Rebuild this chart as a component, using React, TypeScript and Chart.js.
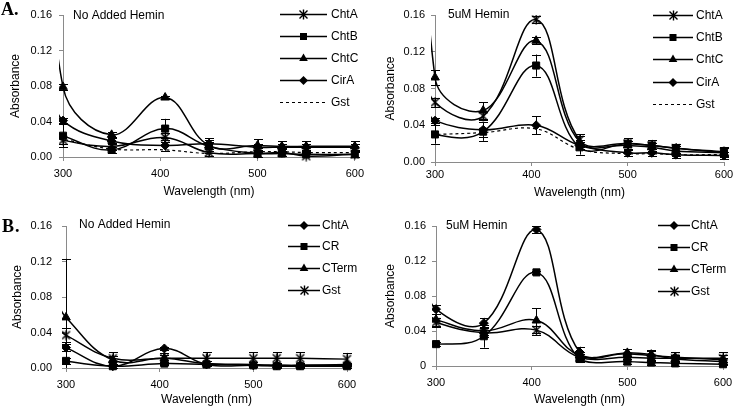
import React, { useEffect, useRef } from "react";
import { Chart, registerables } from "chart.js";

Chart.register(...registerables);

const FONT = '"Liberation Sans", Arial, sans-serif';
const AXIS_COLOR = "#8a8a8a";

// ---------- shared axes ----------
const wavelengths = [300, 350, 405, 450, 500, 525, 550, 600];
const leadWavelength = 290;
const xTickValues = [300, 400, 500, 600];
const xTickLabels = ["300", "400", "500", "600"];
const yTickLabels = ["0.00", "0.04", "0.08", "0.12", "0.16"];
const yTickLabelsPlainZero = ["0", "0.04", "0.08", "0.12", "0.16"];

// ---------- Panel A, no added hemin ----------
const a1ChtA = [0.019, 0.012, 0.022, 0.005, 0.004, 0.005, 0.001, 0.003];
const a1ChtAErr = [0.004, 0.004, 0.005, 0.004, 0.004, 0.004, 0.003, 0.003];
const a1ChtB = [0.024, 0.008, 0.032, 0.012, 0.004, 0.004, 0.003, 0.003];
const a1ChtBErr = [0.013, 0.003, 0.011, 0.005, 0.006, 0.006, 0.005, 0.005];
const a1ChtC = [0.079, 0.025, 0.067, 0.013, 0.013, 0.012, 0.012, 0.012];
const a1ChtCErr = [0.003, 0.003, 0.002, 0.008, 0.007, 0.006, 0.006, 0.006];
const a1CirA = [0.041, 0.018, 0.013, 0.015, 0.011, 0.011, 0.011, 0.011];
const a1CirAErr = [0.003, 0.003, 0.006, 0.004, 0.004, 0.004, 0.004, 0.004];
const a1Gst = [0.02, 0.009, 0.008, 0.004, 0.006, 0.006, 0.005, 0.005];
const a1Lead = [0.025, 0.03, 0.36, 0.075, 0.022]; // ChtA, ChtB, ChtC, CirA, Gst

// ---------- Panel A, 5uM hemin ----------
const a2ChtA = [0.065, 0.05, 0.155, 0.024, 0.02, 0.018, 0.015, 0.011];
const a2ChtAErr = [0.005, 0.004, 0.004, 0.006, 0.006, 0.006, 0.005, 0.005];
const a2ChtB = [0.03, 0.033, 0.105, 0.016, 0.02, 0.018, 0.015, 0.01];
const a2ChtBErr = [0.01, 0.01, 0.012, 0.008, 0.006, 0.006, 0.005, 0.005];
const a2ChtC = [0.092, 0.056, 0.132, 0.022, 0.018, 0.016, 0.012, 0.01];
const a2ChtCErr = [0.008, 0.009, 0.004, 0.006, 0.005, 0.005, 0.005, 0.005];
const a2CirA = [0.045, 0.035, 0.04, 0.018, 0.01, 0.01, 0.008, 0.007];
const a2CirAErr = [0.003, 0.008, 0.01, 0.004, 0.004, 0.004, 0.004, 0.004];
const a2Gst = [0.03, 0.032, 0.036, 0.014, 0.009, 0.009, 0.008, 0.008];
const a2Lead = [0.11, 0.045, 0.55, 0.06, 0.03];

// ---------- Panel B, no added hemin ----------
const b1ChtA = [0.023, 0.002, 0.022, 0.004, 0.003, 0.003, 0.003, 0.004];
const b1ChtAErr = [0.004, 0.002, 0.002, 0.002, 0.002, 0.002, 0.002, 0.002];
const b1CR = [0.008, 0.002, 0.005, 0.004, 0.003, 0.002, 0.002, 0.002];
const b1CRErr = [0.003, 0.002, 0.002, 0.002, 0.002, 0.002, 0.002, 0.002];
const b1CTerm = [0.057, 0.009, 0.011, 0.005, 0.004, 0.003, 0.003, 0.003];
const b1CTermErr = [0.066, 0.004, 0.004, 0.003, 0.003, 0.003, 0.003, 0.003];
const b1Gst = [0.037, 0.011, 0.011, 0.011, 0.011, 0.011, 0.011, 0.01];
const b1GstErr = [0.008, 0.007, 0.006, 0.007, 0.007, 0.007, 0.007, 0.007];
const b1Lead = [0.03, 0.012, 0.075, 0.045];

// ---------- Panel B, 5uM hemin ----------
const b2ChtA = [0.065, 0.049, 0.156, 0.016, 0.014, 0.012, 0.01, 0.007];
const b2ChtAErr = [0.005, 0.006, 0.004, 0.006, 0.006, 0.006, 0.006, 0.006];
const b2CR = [0.025, 0.034, 0.107, 0.008, 0.005, 0.004, 0.003, 0.002];
const b2CRErr = [0.002, 0.013, 0.002, 0.003, 0.003, 0.003, 0.003, 0.003];
const b2CTerm = [0.053, 0.04, 0.052, 0.012, 0.015, 0.013, 0.008, 0.005];
const b2CTermErr = [0.007, 0.005, 0.014, 0.004, 0.004, 0.004, 0.004, 0.004];
const b2Gst = [0.05, 0.038, 0.041, 0.01, 0.01, 0.009, 0.009, 0.009];
const b2GstErr = [0.005, 0.005, 0.005, 0.004, 0.004, 0.004, 0.004, 0.007];
const b2Lead = [0.1, 0.03, 0.06, 0.06];

type Marker = "star" | "rect" | "triangle" | "diamond" | "none";
type Series = {
  label: string;
  values: number[];
  errors?: number[];
  lead: number;
  marker: Marker;
  dashed?: boolean;
};
type PanelSpec = {
  key: string;
  left: number;
  top: number;
  width: number;
  height: number;
  area: { l: number; t: number; r: number; b: number };
  yTickPad: number;
  xTickPad: number;
  yTitlePad: number;
  xTitlePad: number;
  yLabels: string[];
  title: string;
  titleX: number;
  titleY: number;
  legend: { x1: number; x2: number; tx: number; rows: number[] };
  letter?: { text: string; x: number; y: number };
  series: Series[];
};

let asteriskCanvas: HTMLCanvasElement | null = null;
function getAsterisk(): HTMLCanvasElement {
  if (asteriskCanvas) return asteriskCanvas;
  const c = document.createElement("canvas");
  c.width = 11;
  c.height = 11;
  const g = c.getContext("2d")!;
  g.strokeStyle = "#000";
  g.lineWidth = 1.4;
  g.beginPath();
  g.moveTo(1.5, 1.5);
  g.lineTo(9.5, 9.5);
  g.moveTo(9.5, 1.5);
  g.lineTo(1.5, 9.5);
  g.moveTo(5.5, 0.5);
  g.lineTo(5.5, 10.5);
  g.stroke();
  asteriskCanvas = c;
  return c;
}

function markerStyle(m: Marker): any {
  if (m === "star") return getAsterisk();
  if (m === "rect") return "rect";
  if (m === "triangle") return "triangle";
  if (m === "diamond") return "rectRot";
  return "circle";
}
function markerRadius(m: Marker): number {
  if (m === "rect") return 5;
  if (m === "triangle") return 5;
  if (m === "diamond") return 4.5;
  if (m === "star") return 5;
  return 0;
}

function drawMarker(ctx: CanvasRenderingContext2D, m: Marker, x: number, y: number) {
  ctx.save();
  ctx.fillStyle = "#000";
  ctx.beginPath();
  if (m === "rect") {
    ctx.fillRect(x - 3.5, y - 3.5, 7, 7);
  } else if (m === "triangle") {
    ctx.moveTo(x, y - 5);
    ctx.lineTo(x + 4.33, y + 2.5);
    ctx.lineTo(x - 4.33, y + 2.5);
    ctx.closePath();
    ctx.fill();
  } else if (m === "diamond") {
    ctx.moveTo(x, y - 4.5);
    ctx.lineTo(x + 4.5, y);
    ctx.lineTo(x, y + 4.5);
    ctx.lineTo(x - 4.5, y);
    ctx.closePath();
    ctx.fill();
  } else if (m === "star") {
    const img = getAsterisk();
    ctx.drawImage(img, Math.round(x - img.width / 2), Math.round(y - img.height / 2));
  }
  ctx.restore();
}

const errorBarPlugin = {
  id: "errorBars",
  afterDatasetsDraw(chart: any) {
    const { ctx, chartArea } = chart;
    const xs = chart.scales.x;
    const ys = chart.scales.y;
    ctx.save();
    ctx.strokeStyle = "#000";
    ctx.lineWidth = 1;
    chart.data.datasets.forEach((ds: any) => {
      const errs: number[] | undefined = ds.errors;
      const vals: number[] = ds.values;
      if (!errs) return;
      wavelengths.forEach((w, i) => {
        const e = errs[i];
        if (!e) return;
        const px = Math.round(xs.getPixelForValue(w)) + 0.5;
        const rawTop = ys.getPixelForValue(vals[i] + e);
        const rawBot = ys.getPixelForValue(vals[i] - e);
        const top = Math.max(chartArea.top, rawTop);
        const bot = Math.min(chartArea.bottom, rawBot);
        ctx.beginPath();
        ctx.moveTo(px, top);
        ctx.lineTo(px, bot);
        if (rawTop >= chartArea.top) {
          ctx.moveTo(px - 4.5, Math.round(top) + 0.5);
          ctx.lineTo(px + 4.5, Math.round(top) + 0.5);
        }
        if (rawBot <= chartArea.bottom) {
          ctx.moveTo(px - 4.5, Math.round(bot) + 0.5);
          ctx.lineTo(px + 4.5, Math.round(bot) + 0.5);
        }
        ctx.stroke();
      });
    });
    ctx.restore();
  },
};

function buildConfig(p: PanelSpec): any {
  const datasets = p.series.map((s) => ({
    label: s.label,
    values: s.values,
    errors: s.errors,
    data: [{ x: leadWavelength, y: s.lead }].concat(
      wavelengths.map((w, i) => ({ x: w, y: s.values[i] }))
    ),
    borderColor: "#000",
    backgroundColor: "#000",
    pointBackgroundColor: "#000",
    pointBorderColor: "#000",
    pointBorderWidth: 1,
    borderWidth: s.dashed ? 1.2 : 1.5,
    borderDash: s.dashed ? [3, 3] : [],
    tension: 0.4,
    pointStyle: (ctx: any) => (ctx.dataIndex === 0 ? "circle" : markerStyle(s.marker)),
    pointRadius: (ctx: any) => (ctx.dataIndex === 0 ? 0 : markerRadius(s.marker)),
    clip: { left: 4, top: 0, right: 8, bottom: 8 },
  }));

  const decor = {
    id: "decor" + p.key,
    afterDraw(chart: any) {
      const ctx: CanvasRenderingContext2D = chart.ctx;
      ctx.save();
      ctx.fillStyle = "#000";
      ctx.textBaseline = "middle";
      ctx.textAlign = "left";
      ctx.font = `12px ${FONT}`;
      ctx.fillText(p.title, p.titleX, p.titleY);
      const L = p.legend;
      p.series.forEach((s, i) => {
        const y = L.rows[i];
        ctx.save();
        ctx.strokeStyle = "#000";
        ctx.lineWidth = s.dashed ? 1.2 : 1.5;
        ctx.setLineDash(s.dashed ? [3, 3] : []);
        ctx.beginPath();
        ctx.moveTo(L.x1, y + 0.5);
        ctx.lineTo(L.x2, y + 0.5);
        ctx.stroke();
        ctx.restore();
        drawMarker(ctx, s.marker, (L.x1 + L.x2) / 2, y + 0.5);
        ctx.fillStyle = "#000";
        ctx.font = `12px ${FONT}`;
        ctx.fillText(s.label, L.tx, y + 0.5);
      });
      if (p.letter) {
        ctx.font = `bold 18px "Liberation Serif", "Times New Roman", serif`;
        ctx.textBaseline = "alphabetic";
        ctx.fillText(p.letter.text[0], p.letter.x, p.letter.y);
        ctx.fillText(p.letter.text.slice(1), p.letter.x + 13, p.letter.y);
      }
      ctx.restore();
    },
  };

  const gridOpts = { drawOnChartArea: false, drawTicks: true, tickLength: 4, color: AXIS_COLOR };
  const borderOpts = { display: true, color: AXIS_COLOR, width: 1 };

  return {
    type: "line",
    data: { datasets },
    plugins: [errorBarPlugin, decor],
    options: {
      responsive: false,
      animation: false,
      events: [],
      layout: { padding: { left: 0, top: p.area.t, right: p.width - p.area.r, bottom: 0 } },
      plugins: {
        legend: { display: false },
        tooltip: { enabled: false },
        title: { display: false },
      },
      scales: {
        x: {
          type: "linear",
          min: 300,
          max: 600,
          ticks: {
            stepSize: 100,
            maxRotation: 0,
            autoSkip: false,
            color: "#000",
            font: { size: 11, family: FONT },
            padding: p.xTickPad,
            callback: (v: number) => {
              const k = xTickValues.indexOf(v);
              return k >= 0 ? xTickLabels[k] : "";
            },
          },
          grid: gridOpts,
          border: borderOpts,
          title: {
            display: true,
            text: "Wavelength (nm)",
            color: "#000",
            font: { size: 12, family: FONT },
            padding: { top: 0, bottom: p.xTitlePad },
          },
          afterFit: (s: any) => {
            s.height = p.height - p.area.b;
          },
        },
        y: {
          type: "linear",
          min: 0,
          max: 0.16,
          ticks: {
            stepSize: 0.04,
            color: "#000",
            font: { size: 11, family: FONT },
            padding: p.yTickPad,
            callback: (_v: number, i: number) => p.yLabels[i],
          },
          grid: gridOpts,
          border: borderOpts,
          title: {
            display: true,
            text: "Absorbance",
            color: "#000",
            font: { size: 12, family: FONT },
            padding: { top: p.yTitlePad, bottom: 0 },
          },
          afterFit: (s: any) => {
            s.width = p.area.l;
          },
        },
      },
    },
  };
}

const panels: PanelSpec[] = [
  {
    key: "A1",
    left: 0,
    top: 0,
    width: 370,
    height: 200,
    area: { l: 63, t: 15, r: 355, b: 157 },
    yTickPad: 7,
    xTickPad: 6,
    yTitlePad: 8,
    xTitlePad: 1,
    yLabels: yTickLabels,
    title: "No Added Hemin",
    titleX: 73,
    titleY: 16,
    legend: { x1: 280, x2: 327, tx: 331, rows: [14, 36, 58, 80, 102] },
    letter: { text: "A.", x: 1, y: 15 },
    series: [
      { label: "ChtA", values: a1ChtA, errors: a1ChtAErr, lead: a1Lead[0], marker: "star" },
      { label: "ChtB", values: a1ChtB, errors: a1ChtBErr, lead: a1Lead[1], marker: "rect" },
      { label: "ChtC", values: a1ChtC, errors: a1ChtCErr, lead: a1Lead[2], marker: "triangle" },
      { label: "CirA", values: a1CirA, errors: a1CirAErr, lead: a1Lead[3], marker: "diamond" },
      { label: "Gst", values: a1Gst, lead: a1Lead[4], marker: "none", dashed: true },
    ],
  },
  {
    key: "A2",
    left: 368,
    top: 0,
    width: 375,
    height: 200,
    area: { l: 67, t: 15, r: 356, b: 162 },
    yTickPad: 6,
    xTickPad: 2,
    yTitlePad: 15,
    xTitlePad: 0,
    yLabels: yTickLabels,
    title: "5uM Hemin",
    titleX: 80,
    titleY: 15,
    legend: { x1: 285, x2: 325, tx: 328, rows: [15, 37, 59, 82, 104] },
    series: [
      { label: "ChtA", values: a2ChtA, errors: a2ChtAErr, lead: a2Lead[0], marker: "star" },
      { label: "ChtB", values: a2ChtB, errors: a2ChtBErr, lead: a2Lead[1], marker: "rect" },
      { label: "ChtC", values: a2ChtC, errors: a2ChtCErr, lead: a2Lead[2], marker: "triangle" },
      { label: "CirA", values: a2CirA, errors: a2CirAErr, lead: a2Lead[3], marker: "diamond" },
      { label: "Gst", values: a2Gst, lead: a2Lead[4], marker: "none", dashed: true },
    ],
  },
  {
    key: "B1",
    left: 0,
    top: 200,
    width: 370,
    height: 207,
    area: { l: 66, t: 26, r: 347, b: 168 },
    yTickPad: 10,
    xTickPad: 6,
    yTitlePad: 10,
    xTitlePad: 0,
    yLabels: yTickLabels,
    title: "No Added Hemin",
    titleX: 79,
    titleY: 25,
    legend: { x1: 288, x2: 320, tx: 322, rows: [25, 46, 68, 90] },
    letter: { text: "B.", x: 2, y: 32 },
    series: [
      { label: "ChtA", values: b1ChtA, errors: b1ChtAErr, lead: b1Lead[0], marker: "diamond" },
      { label: "CR", values: b1CR, errors: b1CRErr, lead: b1Lead[1], marker: "rect" },
      { label: "CTerm", values: b1CTerm, errors: b1CTermErr, lead: b1Lead[2], marker: "triangle" },
      { label: "Gst", values: b1Gst, errors: b1GstErr, lead: b1Lead[3], marker: "star" },
    ],
  },
  {
    key: "B2",
    left: 368,
    top: 200,
    width: 375,
    height: 207,
    area: { l: 68, t: 26, r: 355, b: 166 },
    yTickPad: 6,
    xTickPad: 6,
    yTitlePad: 15,
    xTitlePad: 0,
    yLabels: yTickLabelsPlainZero,
    title: "5uM Hemin",
    titleX: 78,
    titleY: 26,
    legend: { x1: 290, x2: 322, tx: 323, rows: [25, 47, 69, 91] },
    series: [
      { label: "ChtA", values: b2ChtA, errors: b2ChtAErr, lead: b2Lead[0], marker: "diamond" },
      { label: "CR", values: b2CR, errors: b2CRErr, lead: b2Lead[1], marker: "rect" },
      { label: "CTerm", values: b2CTerm, errors: b2CTermErr, lead: b2Lead[2], marker: "triangle" },
      { label: "Gst", values: b2Gst, errors: b2GstErr, lead: b2Lead[3], marker: "star" },
    ],
  },
];

function Panel({ spec }: { spec: PanelSpec }) {
  const ref = useRef<HTMLCanvasElement>(null);
  useEffect(() => {
    const chart = new Chart(ref.current as HTMLCanvasElement, buildConfig(spec));
    return () => chart.destroy();
  }, [spec]);
  return (
    <canvas
      ref={ref}
      width={spec.width}
      height={spec.height}
      style={{
        position: "absolute",
        left: spec.left,
        top: spec.top,
        width: spec.width,
        height: spec.height,
      }}
    />
  );
}

export default function App() {
  Chart.defaults.font.family = FONT;
  Chart.defaults.color = "#000";
  return (
    <div
      style={{
        position: "absolute",
        left: 0,
        top: 0,
        width: 733,
        height: 407,
        overflow: "hidden",
        background: "#fff",
      }}
    >
      {panels.map((p) => (
        <Panel key={p.key} spec={p} />
      ))}
    </div>
  );
}
